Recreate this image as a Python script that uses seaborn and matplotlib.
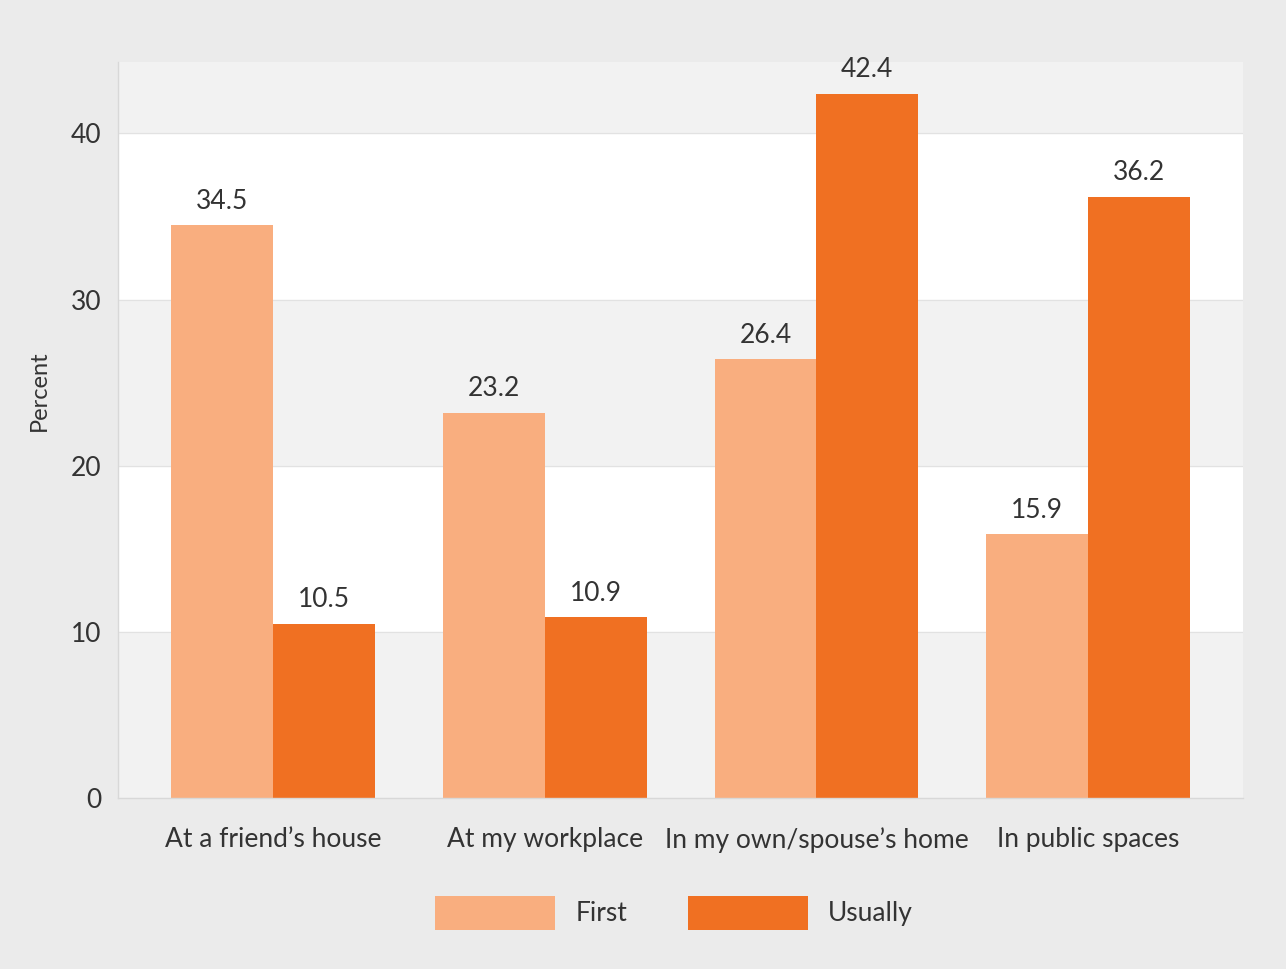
import matplotlib
matplotlib.use("Agg")
import matplotlib.pyplot as plt
import numpy as np
import pandas as pd
import seaborn as sns
from matplotlib.patches import Patch

# ── Data ──────────────────────────────────────────────────────────────────────
places = ["At a friend\u2019s house", "At my workplace",
          "In my own/spouse\u2019s home", "In public spaces"]
first = [34.5, 23.2, 26.4, 15.9]
usually = [10.5, 10.9, 42.4, 36.2]
series = ["First", "Usually"]
y_ticks = [0, 10, 20, 30, 40]

colours = {"First": "#f9ae7f", "Usually": "#f07022"}
text_c = "#333333"

df = pd.DataFrame({
    "place": places * 2,
    "series": ["First"] * len(places) + ["Usually"] * len(places),
    "value": first + usually,
})

sns.set_theme(style="white")
plt.rcParams["font.family"] = ["Lato", "DejaVu Sans"]

fig = plt.figure(figsize=(12.86, 9.69), dpi=100, facecolor="#ebebeb")
ax = fig.add_axes([0.0918, 0.1765, 0.8748, 0.7595])
ax.set_facecolor("#f2f2f2")

# alternating bands
ymax = 44.3
for lo in [10, 30]:
    ax.axhspan(lo, lo + 10, color="white", zorder=0)
for y in y_ticks[1:]:
    ax.axhline(y, color="#e2e2e2", lw=1, zorder=0.5)

sns.barplot(data=df, x="place", y="value", hue="series", order=places,
            hue_order=series, palette=colours, width=0.75, saturation=1,
            edgecolor="none", linewidth=0, ax=ax, legend=False, zorder=2)

for cont in ax.containers:
    ax.bar_label(cont, fmt="%.1f", padding=8, fontsize=19, color=text_c)

ax.set_xlim(-0.57, 3.57)
ax.set_ylim(0, ymax)
ax.set_yticks(y_ticks)
ax.set_xlabel("")
ax.set_ylabel("Percent", fontsize=17, color=text_c)
ax.yaxis.set_label_coords(-0.061, 0.554)
ax.tick_params(axis="y", labelsize=19, colors=text_c, length=9, color="#d8d8d8",
               pad=3)
ax.tick_params(axis="x", labelsize=19, colors=text_c, length=0, pad=21)

for side in ["top", "right"]:
    ax.spines[side].set_visible(False)
for side in ["left", "bottom"]:
    ax.spines[side].set_color("#d8d8d8")
    ax.spines[side].set_linewidth(1)

handles = [Patch(facecolor=colours[s], edgecolor="none") for s in series]
fig.legend(handles, series, loc="center", bbox_to_anchor=(0.524, 0.058),
           ncol=2, frameon=False, fontsize=19, handlelength=4.55,
           handleheight=1.6, handletextpad=0.76, columnspacing=2.3,
           labelcolor=text_c)

fig.savefig("out.png", dpi=100, facecolor=fig.get_facecolor())
